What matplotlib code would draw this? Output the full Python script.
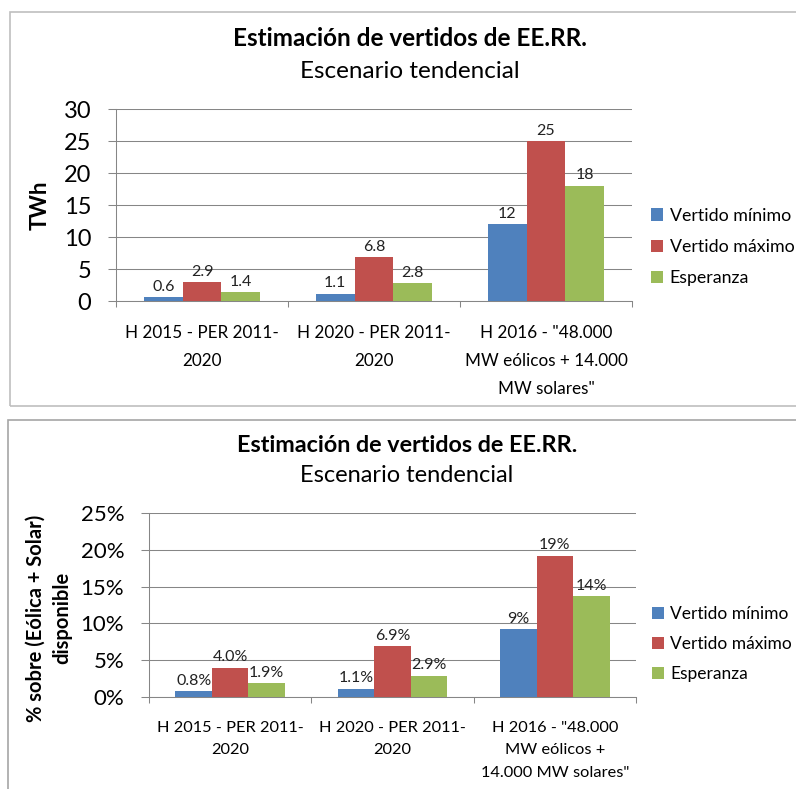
import numpy as np
import matplotlib
matplotlib.use("Agg")
import matplotlib.pyplot as plt
from matplotlib.patches import Rectangle

plt.rcParams['font.family'] = ['Lato', 'DejaVu Sans']

# data
series = ["Vertido mínimo", "Vertido máximo", "Esperanza"]
colors = ["#4F81BD", "#C0504D", "#9BBB59"]

cats_twh = ["H 2015 - PER 2011-\n2020", "H 2020 - PER 2011-\n2020",
            "H 2016 - \"48.000\nMW eólicos + 14.000\nMW solares\""]
minimo_twh = [0.6, 1.1, 12]
maximo_twh = [2.9, 6.8, 25]
esperanza_twh = [1.4, 2.8, 18]
fmt_twh = ["{:.1f}", "{:.1f}", "{:.0f}"]

cats_pct = ["H 2015 - PER 2011-\n2020", "H 2020 - PER 2011-\n2020",
            "H 2016 - \"48.000\nMW eólicos +\n14.000 MW solares\""]
minimo_pct = [0.8, 1.1, 9.2]
maximo_pct = [4.0, 6.9, 19.2]
esperanza_pct = [1.9, 2.9, 13.7]
fmt_pct = ["{:.1f}%", "{:.1f}%", "{:.0f}%"]

title = "Estimación de vertidos de EE.RR."
subtitle = "Escenario tendencial"

W, H = 796, 789
fig = plt.figure(figsize=(W / 100, H / 100), dpi=100)
fig.patch.set_facecolor("white")

grey = "#868686"


def fx(px):
    return px / W


def fy(py):
    return 1 - py / H


def panel(rect, cats, vals, fmts, ymax, ystep, pct, fs, xfs, xls):
    ax = fig.add_axes(rect)
    x = np.arange(len(cats))
    w = 0.225
    for i, (v, c) in enumerate(zip(vals, colors)):
        bars = ax.bar(x + (i - 1) * w, v, w, color=c, label=series[i], zorder=3)
        labs = [f.format(val) for f, val in zip(fmts, v)]
        ax.bar_label(bars, labels=labs, padding=2.5, fontsize=11.5, color="#222222")
    ax.set_xlim(-0.5, len(cats) - 0.5)
    ax.set_ylim(0, ymax)
    ticks = np.arange(0, ymax + 0.1, ystep)
    ax.set_yticks(ticks)
    if pct:
        ax.set_yticklabels([f"{t:.0f}%" for t in ticks])
    else:
        ax.set_yticklabels([f"{t:.0f}" for t in ticks])
    ax.tick_params(axis="y", direction="out", length=5.8, width=0.75, color=grey,
                   labelsize=fs, pad=12)
    ax.set_xticks(np.arange(-0.5, len(cats), 1.0))
    ax.set_xticklabels([])
    ax.set_xticks(x, minor=True)
    ax.set_xticklabels(cats, minor=True, fontsize=xfs, linespacing=xls)
    ax.tick_params(axis="x", which="major", direction="out", length=4.3, width=0.75, color=grey)
    ax.tick_params(axis="x", which="minor", length=0, pad=17)
    for s in ["top", "right"]:
        ax.spines[s].set_visible(False)
    for s in ["left", "bottom"]:
        ax.spines[s].set_color(grey)
        ax.spines[s].set_linewidth(0.75)
    ax.yaxis.grid(True, color=grey, linewidth=0.75, zorder=0)
    ax.set_axisbelow(True)
    return ax


# top panel
ax1 = panel([fx(116), fy(301), fx(632 - 116), (301 - 109) / H], cats_twh,
            [minimo_twh, maximo_twh, esperanza_twh], fmt_twh, 30, 5, False, 17, 12.3, 1.95)
fig.text(fx(410), fy(38), title, ha="center", va="center", fontsize=17.5, fontweight="bold")
fig.text(fx(410), fy(72), subtitle, ha="center", va="center", fontsize=17.5)
fig.text(fx(40), fy(205), "TWh", ha="center", va="center", rotation=90,
         fontsize=16, fontweight="bold")
h, l = ax1.get_legend_handles_labels()
fig.legend(h, l, loc="center left", bbox_to_anchor=(fx(651), fy(247)),
           bbox_transform=fig.transFigure, frameon=False, fontsize=12.8,
           handlelength=0.7, handleheight=0.7, handletextpad=0.35,
           labelspacing=0.85, borderpad=0, borderaxespad=0)

# bottom panel
ax2 = panel([fx(149), fy(697), fx(636 - 149), (697 - 513) / H], cats_pct,
            [minimo_pct, maximo_pct, esperanza_pct], fmt_pct, 25, 5, True, 16, 11.8, 1.8)
fig.text(fx(407), fy(445), title, ha="center", va="center", fontsize=16.8, fontweight="bold")
fig.text(fx(407), fy(476), subtitle, ha="center", va="center", fontsize=17)
fig.text(fx(36), fy(618), "% sobre (Eólica + Solar)", ha="center", va="center",
         rotation=90, fontsize=14.5, fontweight="bold")
fig.text(fx(62), fy(618), "disponible", ha="center", va="center",
         rotation=90, fontsize=14.5, fontweight="bold")
h, l = ax2.get_legend_handles_labels()
fig.legend(h, l, loc="center left", bbox_to_anchor=(fx(652), fy(644)),
           bbox_transform=fig.transFigure, frameon=False, fontsize=12.5,
           handlelength=0.7, handleheight=0.7, handletextpad=0.35,
           labelspacing=0.8, borderpad=0, borderaxespad=0)

# chart area borders
fig.patches.append(Rectangle((fx(10), fy(406)), fx(800), (406 - 12) / H, transform=fig.transFigure,
                             fill=False, edgecolor="#BFBFBF", linewidth=1.2))
fig.patches.append(Rectangle((fx(8), fy(800)), fx(800), (800 - 420) / H, transform=fig.transFigure,
                             fill=False, edgecolor="#A6A6A6", linewidth=1.2))

fig.savefig("out.png", dpi=100)
